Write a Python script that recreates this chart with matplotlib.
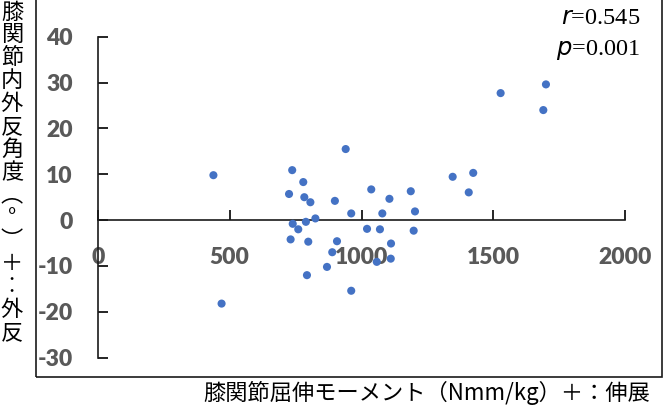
import matplotlib.pyplot as plt
from matplotlib.patches import Rectangle

# Knee flexion-extension moment (Nmm/kg) vs knee varus/valgus angle (deg)
moment = [438, 469, 737, 779, 725, 783, 806, 899, 940, 1037,
          1106, 1187, 961, 1079, 1203, 825, 789, 739, 760, 1021,
          1070, 1198, 731, 798, 907, 1112, 889, 1058, 1111, 869,
          793, 961, 1528, 1700, 1690, 1346, 1424, 1407]
angle = [9.8, -18.2, 10.9, 8.3, 5.7, 5.0, 3.9, 4.2, 15.5, 6.7,
         4.65, 6.3, 1.46, 1.46, 1.9, 0.37, -0.37, -0.8, -2.0, -1.9,
         -2.0, -2.3, -4.2, -4.7, -4.6, -5.1, -7.0, -9.1, -8.4, -10.2,
         -12.0, -15.4, 27.7, 29.6, 24.0, 9.45, 10.3, 6.05]

x_ticks = [0, 500, 1000, 1500, 2000]
y_ticks = [-30, -20, -10, 0, 10, 20, 30, 40]

ylabel_chars = list("膝関節内外反角度︵°︶＋︰外反")
xlabel = "膝関節屈伸モーメント（Nmm/kg）＋：伸展"

fig = plt.figure(figsize=(6.66, 4.2), dpi=100)
ax = fig.add_axes([98 / 666, 1 - 357.7 / 420, 527 / 666, 321 / 420])

ax.scatter(moment, angle, s=34, color="#4472C4", edgecolors="none", zorder=3)

ax.set_xlim(0, 2000)
ax.set_ylim(-30, 40)

ax.spines["top"].set_visible(False)
ax.spines["right"].set_visible(False)
ax.spines["bottom"].set_position(("data", 0))
for s in ("left", "bottom"):
    ax.spines[s].set_linewidth(1.2)
    ax.spines[s].set_color("#1a1a1a")

ax.set_xticks(x_ticks)
ax.set_yticks(y_ticks)
ax.set_xticklabels([str(v) for v in x_ticks])
ax.set_yticklabels([str(v) for v in y_ticks])
ax.tick_params(axis="x", direction="in", length=7, width=1.2, pad=19,
               labelsize=16.5, labelcolor="#595959")
ax.tick_params(axis="y", direction="in", length=7, width=1.2, pad=18,
               labelsize=16.5, labelcolor="#595959")
for lab in ax.get_xticklabels() + ax.get_yticklabels():
    lab.set_family("Lato")
    lab.set_fontweight("heavy")

# Stats annotation
fig.text(640 / 666, 1 - 19 / 420, r"$\it{r}$=0.545", ha="right", va="center",
         fontsize=17.5, family="Liberation Serif")
fig.text(640 / 666, 1 - 50 / 420, r"$\it{p}$=0.001", ha="right", va="center",
         fontsize=17.5, family="Liberation Serif")

# Outer frame
fig.patches.append(Rectangle((36 / 666, 1 - 377 / 420), 626 / 666, 377 / 420 + 0.05,
                             transform=fig.transFigure, fill=False,
                             edgecolor="#1a1a1a", linewidth=1.2))

# Vertical y label, one character per line
for i, ch in enumerate(ylabel_chars):
    fig.text(12 / 666, 1 - (12 + i * 22.9) / 420, ch, ha="center", va="center",
             fontsize=16, family=["Noto Sans CJK JP", "DejaVu Sans"])

fig.text(650 / 666, 1 - 393 / 420, xlabel, ha="right", va="center",
         fontsize=16, family=["Noto Sans CJK JP", "DejaVu Sans"])

fig.savefig("out.png", dpi=100)
